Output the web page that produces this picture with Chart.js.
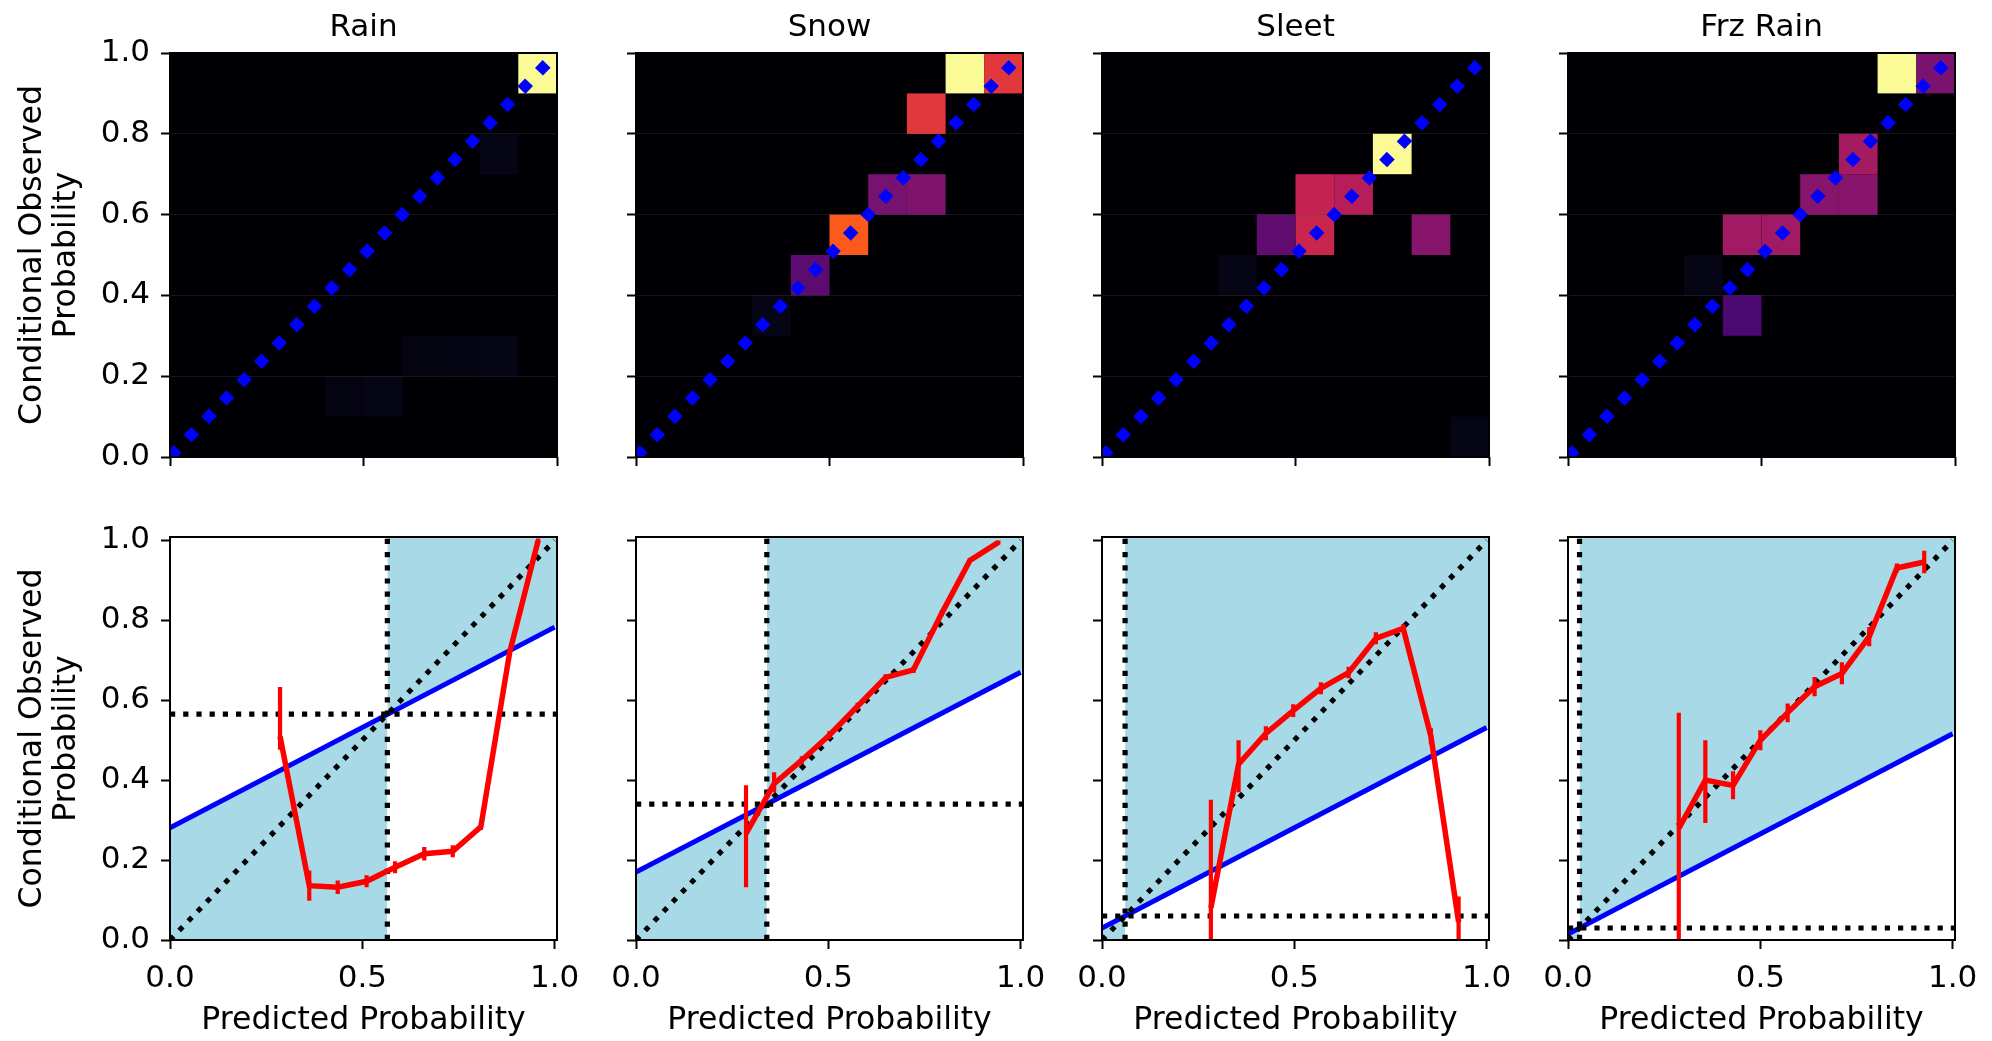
<!DOCTYPE html>
<html>
<head>
<meta charset="utf-8">
<title>Reliability diagrams</title>
<script src="https://cdn.jsdelivr.net/npm/chart.js@4.4.1/dist/chart.umd.min.js"></script>
<style>
	html, body { margin: 0; padding: 0; background: #fff; }
	#figure { position: relative; width: 1992px; height: 1041px; overflow: hidden; }
	#figure canvas { position: absolute; }
</style>
</head>
<body>
<div id="figure"></div>
<script>
// ---- data ----
const panelTitles = ['Rain', 'Snow', 'Sleet', 'Frz Rain'];
const xTickValues = [0.0, 0.5, 1.0];
const yTickValues = [0.0, 0.2, 0.4, 0.6, 0.8, 1.0];
const binEdges = [0.0, 0.1, 0.2, 0.3, 0.4, 0.5, 0.6, 0.7, 0.8, 0.9, 1.0];

// joint histogram, non-empty cells only: [x bin, y bin, normalised count]
const rainCells = [[9, 9, 1.0], [8, 7, 0.03], [6, 2, 0.02], [7, 2, 0.025], [8, 2, 0.03], [4, 1, 0.02], [5, 1, 0.03]];
const snowCells = [[8, 9, 1.0], [9, 9, 0.6], [7, 8, 0.6], [6, 6, 0.35], [7, 6, 0.37], [5, 5, 0.7], [4, 4, 0.29], [3, 3, 0.03]];
const sleetCells = [[7, 7, 1.0], [5, 6, 0.53], [6, 6, 0.5], [5, 5, 0.54], [4, 5, 0.3], [8, 5, 0.39], [3, 4, 0.03], [9, 0, 0.03]];
const frzCells = [[8, 9, 1.0], [9, 9, 0.36], [7, 7, 0.46], [6, 6, 0.39], [7, 6, 0.39], [4, 5, 0.45], [5, 5, 0.45], [3, 4, 0.03], [4, 3, 0.25]];

// reliability curves
const rainForecast = [0.286, 0.362, 0.436, 0.511, 0.585, 0.661, 0.735, 0.808, 0.883, 0.957];
const rainObserved = [0.51, 0.136, 0.132, 0.147, 0.182, 0.216, 0.222, 0.283, 0.72, 1.0];
const rainLower = [0.476, 0.098, 0.115, 0.132, 0.167, 0.199, 0.207, 0.275, 0.712, 0.995];
const rainUpper = [0.633, 0.174, 0.149, 0.162, 0.197, 0.233, 0.237, 0.291, 0.728, 1.005];

const snowForecast = [0.286, 0.359, 0.431, 0.503, 0.576, 0.649, 0.721, 0.795, 0.868, 0.942];
const snowObserved = [0.266, 0.391, 0.45, 0.513, 0.585, 0.657, 0.676, 0.818, 0.95, 0.995];
const snowLower = [0.132, 0.37, 0.44, 0.503, 0.576, 0.649, 0.668, 0.81, 0.944, 0.99];
const snowUpper = [0.387, 0.42, 0.46, 0.523, 0.594, 0.665, 0.684, 0.826, 0.956, 1.0];

const sleetForecast = [0.283, 0.355, 0.426, 0.497, 0.569, 0.641, 0.712, 0.783, 0.855, 0.927];
const sleetObserved = [0.08, 0.44, 0.517, 0.574, 0.63, 0.669, 0.755, 0.78, 0.51, 0.045];
const sleetLower = [0.0, 0.37, 0.5, 0.558, 0.615, 0.655, 0.74, 0.772, 0.49, 0.0];
const sleetUpper = [0.351, 0.5, 0.535, 0.59, 0.645, 0.684, 0.77, 0.79, 0.53, 0.109];

const frzForecast = [0.288, 0.357, 0.429, 0.5, 0.571, 0.641, 0.712, 0.783, 0.855, 0.926];
const frzObserved = [0.279, 0.40, 0.387, 0.5, 0.569, 0.634, 0.667, 0.759, 0.931, 0.946];
const frzLower = [0.0, 0.293, 0.352, 0.475, 0.545, 0.61, 0.64, 0.735, 0.92, 0.918];
const frzUpper = [0.569, 0.5, 0.422, 0.525, 0.592, 0.658, 0.695, 0.783, 0.942, 0.974];

// climatological frequency and no-skill line (value at x=0 and x=1)
const rainClimatology = 0.565;
const snowClimatology = 0.34;
const sleetClimatology = 0.06;
const frzClimatology = 0.03;
const rainNoSkill = [0.281, 0.783];
const snowNoSkill = [0.17, 0.67];
const sleetNoSkill = [0.03, 0.532];
const frzNoSkill = [0.015, 0.516];

// ---- style ----
const FONT = 'DejaVu Sans';
const COL_STEP = 466;
const AXIS_WIDTH = 170;
const PLOT_WIDTH = 387;
const RIGHT_PAD = 30;
const BOTTOM_XMAX = 1.006;
const BOTTOM_YMAX = 1.0085;
const SHADE = '#a8d9e7';

// colour ramp of the histogram (black - purple - red - yellow)
const heatStops = [
	[0.00, [0, 0, 4]],
	[0.05, [10, 8, 34]],
	[0.25, [75, 8, 112]],
	[0.35, [118, 18, 112]],
	[0.45, [160, 26, 100]],
	[0.52, [192, 32, 84]],
	[0.60, [226, 56, 60]],
	[0.70, [252, 90, 28]],
	[0.85, [250, 200, 80]],
	[1.00, [250, 250, 150]]
];

const panels = [
	{ cells: rainCells, fx: rainForecast, obs: rainObserved, lo: rainLower, hi: rainUpper, clim: rainClimatology, noSkill: rainNoSkill },
	{ cells: snowCells, fx: snowForecast, obs: snowObserved, lo: snowLower, hi: snowUpper, clim: snowClimatology, noSkill: snowNoSkill },
	{ cells: sleetCells, fx: sleetForecast, obs: sleetObserved, lo: sleetLower, hi: sleetUpper, clim: sleetClimatology, noSkill: sleetNoSkill },
	{ cells: frzCells, fx: frzForecast, obs: frzObserved, lo: frzLower, hi: frzUpper, clim: frzClimatology, noSkill: frzNoSkill }
];

function heatColor(v) {
	for (let i = 1; i < heatStops.length; i++) {
		const [p1, c1] = heatStops[i];
		const [p0, c0] = heatStops[i - 1];
		if (v <= p1) {
			const t = (v - p0) / (p1 - p0);
			const c = c0.map((a, k) => Math.round(a + (c1[k] - a) * t));
			return 'rgb(' + c.join(',') + ')';
		}
	}
	return 'rgb(' + heatStops[heatStops.length - 1][1].join(',') + ')';
}

const heatmapPlugin = {
	id: 'heatmap',
	beforeDraw: function (chart, args, opts) {
		if (!opts.cells) {return;}
		const { ctx, chartArea, scales } = chart;
		ctx.save();
		ctx.fillStyle = heatColor(0);
		ctx.fillRect(chartArea.left, chartArea.top, chartArea.width, chartArea.height);
		opts.cells.forEach(([i, j, v]) => {
			const x0 = scales.x.getPixelForValue(binEdges[i]);
			const x1 = scales.x.getPixelForValue(binEdges[i + 1]);
			const y0 = scales.y.getPixelForValue(binEdges[j]);
			const y1 = scales.y.getPixelForValue(binEdges[j + 1]);
			ctx.fillStyle = heatColor(v);
			ctx.fillRect(x0, y1, x1 - x0, y0 - y1);
		});
		ctx.restore();
	}
};

const framePlugin = {
	id: 'frame',
	afterDatasetsDraw: function (chart) {
		const { ctx, chartArea } = chart;
		ctx.save();
		ctx.strokeStyle = '#000';
		ctx.lineWidth = 2;
		ctx.strokeRect(chartArea.left, chartArea.top, chartArea.width, chartArea.height);
		ctx.restore();
	}
};

(function () {
	'use strict';

	const ReliabilityFigure = {
		charts: [],

		init: function () {
			Chart.defaults.font.family = FONT;
			Chart.defaults.color = '#000';
			panels.forEach((panel, col) => {
				this.charts.push(this.buildHistogram(panel, col));
				this.charts.push(this.buildReliability(panel, col));
			});
		},

		makeCanvas: function (col, top, height) {
			const canvas = document.createElement('canvas');
			canvas.width = AXIS_WIDTH + PLOT_WIDTH + RIGHT_PAD;
			canvas.height = height;
			canvas.style.left = (col * COL_STEP) + 'px';
			canvas.style.top = top + 'px';
			document.getElementById('figure').appendChild(canvas);
			return canvas;
		},

		xAxis: function (row, max) {
			return {
				type: 'linear',
				min: 0,
				max: max,
				afterBuildTicks: (s) => { s.ticks = xTickValues.map(v => ({ value: v })); },
				afterFit: (s) => {
					s.height = row === 0 ? 14 : 101;
					s.paddingLeft = 0;
					s.paddingRight = 0;
				},
				ticks: {
					autoSkip: false,
					maxRotation: 0,
					padding: 11,
					font: { size: 31 },
					color: '#000',
					callback: (v) => row === 1 ? v.toFixed(1) : ''
				},
				grid: { drawOnChartArea: false, tickLength: 9, tickWidth: 2, tickColor: '#000' },
				border: { display: false },
				title: {
					display: row === 1,
					text: 'Predicted Probability',
					font: { size: 31.5 },
					padding: { top: 0, bottom: 1 }
				}
			};
		},

		yAxis: function (row, col, max) {
			return {
				type: 'linear',
				min: 0,
				max: max,
				afterBuildTicks: (s) => { s.ticks = yTickValues.map(v => ({ value: v })); },
				afterFit: (s) => {
					s.width = AXIS_WIDTH;
					s.paddingTop = 0;
					s.paddingBottom = 0;
				},
				ticks: {
					autoSkip: false,
					padding: 11,
					font: { size: 31 },
					color: '#000',
					callback: (v) => col === 0 ? v.toFixed(1) : ''
				},
				grid: {
					drawOnChartArea: row === 0,
					color: 'rgba(255, 255, 255, 0.09)',
					lineWidth: 1,
					tickLength: 9,
					tickWidth: 2,
					tickColor: '#000'
				},
				border: { display: false },
				title: {
					display: col === 0,
					text: ['Conditional Observed', 'Probability'],
					font: { size: 31.5, lineHeight: 1.1 },
					padding: { top: 15, bottom: 0 }
				}
			};
		},

		baseOptions: function () {
			return {
				responsive: false,
				animation: false,
				devicePixelRatio: 1,
				events: [],
				plugins: {
					legend: { display: false },
					tooltip: { enabled: false }
				}
			};
		},

		buildHistogram: function (panel, col) {
			const canvas = this.makeCanvas(col, 0, 471);
			const options = this.baseOptions();
			options.layout = { padding: { top: 0, right: RIGHT_PAD, bottom: 0, left: 0 } };
			options.plugins.title = {
				display: true,
				text: panelTitles[col],
				fullSize: false,
				color: '#000',
				font: { size: 31, weight: 'normal' },
				padding: { top: 9, bottom: 6.8 }
			};
			options.plugins.heatmap = { cells: panel.cells };
			options.scales = { x: this.xAxis(0, 1), y: this.yAxis(0, col, 1) };

			return new Chart(canvas, {
				type: 'line',
				data: {
					datasets: [{
						data: [{ x: 0, y: 0 }, { x: 1, y: 1 }],
						borderColor: '#0000ff',
						borderWidth: 11,
						borderDash: [11, 14.4],
						borderCapStyle: 'butt',
						pointRadius: 0,
						clip: 0
					}]
				},
				options: options,
				plugins: [heatmapPlugin, framePlugin]
			});
		},

		buildReliability: function (panel, col) {
			const canvas = this.makeCanvas(col, 490, 551);
			const options = this.baseOptions();
			options.layout = { padding: { top: 47, right: RIGHT_PAD, bottom: 0, left: 0 } };
			options.scales = { x: this.xAxis(1, BOTTOM_XMAX), y: this.yAxis(1, col, BOTTOM_YMAX) };

			const c = panel.clim;
			const [ns0, ns1] = panel.noSkill;
			const nsAt = (x) => ns0 + (ns1 - ns0) * x;

			const curve = panel.fx.map((x, i) => ({ x: x, y: panel.obs[i] }));
			const bars = [];
			panel.fx.forEach((x, i) => {
				bars.push({ x: x, y: panel.lo[i] }, { x: x, y: panel.hi[i] }, { x: x, y: null });
			});

			const dotted = {
				borderColor: '#000',
				borderWidth: 5.2,
				borderDash: [5.2, 8],
				borderCapStyle: 'butt',
				pointRadius: 0,
				order: 3,
				clip: 0
			};

			return new Chart(canvas, {
				type: 'line',
				data: {
					datasets: [
						{ data: curve, borderColor: '#ff0000', borderWidth: 5.5, pointRadius: 0, order: 1, clip: 0 },
						{ data: bars, borderColor: '#ff0000', borderWidth: 4.2, pointRadius: 0, spanGaps: false, order: 2, clip: 0 },
						Object.assign({ data: [{ x: 0, y: 0 }, { x: 1, y: 1 }] }, dotted),
						Object.assign({ data: [{ x: 0, y: c }, { x: BOTTOM_XMAX, y: c }] }, dotted),
						Object.assign({ data: [{ x: c, y: 0 }, { x: c, y: BOTTOM_YMAX }] }, dotted),
						{
							data: [{ x: 0, y: ns0 }, { x: 1, y: ns1 }],
							borderColor: '#0000ff',
							borderWidth: 5,
							pointRadius: 0,
							order: 4,
							clip: 0
						},
						{
							data: [{ x: 0, y: ns0 }, { x: c, y: nsAt(c) }],
							borderColor: 'rgba(0,0,0,0)',
							borderWidth: 0,
							backgroundColor: SHADE,
							fill: 'start',
							pointRadius: 0,
							order: 9
						},
						{
							data: [{ x: c, y: nsAt(c) }, { x: BOTTOM_XMAX, y: nsAt(BOTTOM_XMAX) }],
							borderColor: 'rgba(0,0,0,0)',
							borderWidth: 0,
							backgroundColor: SHADE,
							fill: 'end',
							pointRadius: 0,
							order: 9
						}
					]
				},
				options: options,
				plugins: [framePlugin]
			});
		}
	};

	ReliabilityFigure.init();
})();
</script>
</body>
</html>
